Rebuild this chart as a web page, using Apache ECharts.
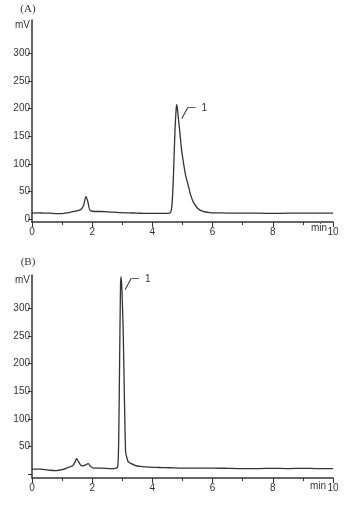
<!DOCTYPE html>
<html>
<head>
<meta charset="utf-8">
<script src="https://cdn.jsdelivr.net/npm/echarts@6/dist/echarts.min.js"></script>
</head>
<body style="margin:0">
<div id="main" style="width:348px;height:508px"></div>
<script>
    // retention time (min) / signal (mV)
    var timeA = [0, 0.2, 0.4, 0.6, 0.8, 1.0, 1.2, 1.4, 1.55, 1.65, 1.72, 1.79, 1.85, 1.9, 1.95, 2.1, 2.3, 2.6, 2.9, 3.2, 3.5, 3.8, 4.2, 4.5, 4.6, 4.65, 4.7, 4.75, 4.79, 4.81, 4.84, 4.92, 4.97, 5.03, 5.1, 5.19, 5.27, 5.36, 5.5, 5.68, 5.9, 6.2, 6.6, 7.0, 7.5, 8.0, 8.5, 9.0, 9.5, 10];
    var signalA = [11, 11.5, 11, 11, 10, 10, 12, 14, 16, 19, 26, 41, 33, 20, 15, 14, 14, 13, 12, 11.5, 11, 10.5, 10.5, 10.5, 12, 25, 80, 160, 200, 207, 195, 152, 125, 103, 80, 61, 44, 31, 20, 14, 12, 11.5, 11, 11, 11, 10.5, 11, 11, 11, 11];

    var timeB = [0, 0.3, 0.6, 0.8, 1.0, 1.2, 1.35, 1.43, 1.48, 1.55, 1.65, 1.75, 1.87, 1.95, 2.05, 2.3, 2.6, 2.8, 2.85, 2.88, 2.91, 2.94, 2.96, 2.99, 3.03, 3.07, 3.11, 3.15, 3.2, 3.3, 3.42, 3.6, 3.9, 4.2, 4.6, 5.0, 5.5, 6.0, 6.5, 7.0, 7.5, 8.0, 8.5, 9.0, 9.5, 10];
    var signalB = [9, 9, 7, 6.5, 8, 12, 15, 22, 28, 22, 15, 16, 19, 14, 11, 11, 10, 11, 14, 60, 200, 340, 357, 330, 258, 138, 40, 30, 22, 19, 16, 14, 12.5, 12, 11.5, 11, 11, 11, 10.5, 10, 10, 10.5, 10, 10.5, 10, 10];

    var yTicks = [0, 50, 100, 150, 200, 250, 300];
    var yLabelsA = [0, 50, 100, 150, 200, 250, 300, 350];   // 350 slot carries "mV"
    var yLabelsB = [50, 100, 150, 200, 250, 300, 350];
    var peakName = '1';

    function pairs(xs, ys) {
        return xs.map(function (x, i) { return [x, ys[i]]; });
    }

    var ink = '#333';
    var font = 'Liberation Sans';

    function xAxisOf(idx) {
        return {
            type: 'value', gridIndex: idx, min: 0, max: 10, interval: 2,
            axisLine: { show: true, onZero: false, lineStyle: { color: ink, width: 1.5 } },
            axisTick: { show: true, length: 5, lineStyle: { color: ink } },
            minorTick: { show: true, splitNumber: 2, length: 3, lineStyle: { color: ink } },
            splitLine: { show: false },
            axisLabel: { color: ink, fontSize: 10, margin: 5 }
        };
    }

    function yAxisOf(idx, min, labels) {
        return {
            type: 'value', gridIndex: idx, min: min, max: 360,
            axisLine: { show: true, onZero: false, lineStyle: { color: ink, width: 1.5 } },
            axisTick: { show: true, length: 4, customValues: yTicks, lineStyle: { color: ink } },
            splitLine: { show: false },
            axisLabel: {
                color: ink, fontSize: 10, margin: 2,
                customValues: labels,
                formatter: function (v) { return v === 350 ? 'mV' : String(v); }
            }
        };
    }

    // leader line + "1" hung on the tallest point of a trace
    function peakMark(xs, ys, offset) {
        var k = ys.indexOf(Math.max.apply(null, ys));
        return {
            silent: true,
            symbol: 'path://M0,13 L6,2 L14,2',
            symbolSize: [14, 11],
            symbolOffset: offset,
            itemStyle: { color: 'none', borderColor: ink, borderWidth: 1 },
            label: { show: true, position: 'right', distance: 3, offset: [0, -5],
                     formatter: peakName, color: ink, fontSize: 10 },
            data: [{ coord: [xs[k], ys[k]] }]
        };
    }

    function note(x, y, text, f) {
        return { type: 'text', x: x, y: y,
                 style: { text: text, font: f, fill: ink, textAlign: 'center', textVerticalAlign: 'middle' } };
    }

    var chart = echarts.init(document.getElementById('main'));
    chart.setOption({
        animation: false,
        textStyle: { fontFamily: font },
        grid: [
            { left: 32, width: 301, top: 20, height: 202 },
            { left: 32, width: 301, top: 275, height: 203 }
        ],
        xAxis: [xAxisOf(0), xAxisOf(1)],
        yAxis: [yAxisOf(0, -5, yLabelsA), yAxisOf(1, -7, yLabelsB)],
        series: [
            { type: 'line', xAxisIndex: 0, yAxisIndex: 0, data: pairs(timeA, signalA), showSymbol: false,
              smooth: 0.25, lineStyle: { color: ink, width: 1.3 },
              markPoint: peakMark(timeA, signalA, [12, 8.5]) },
            { type: 'line', xAxisIndex: 1, yAxisIndex: 1, data: pairs(timeB, signalB), showSymbol: false,
              smooth: 0.2, lineStyle: { color: ink, width: 1.3 },
              markPoint: peakMark(timeB, signalB, [11, 7.5]) }
        ],
        graphic: [
            note(28, 9, '(A)', '11px "Liberation Serif"'),
            note(28, 262, '(B)', '11px "Liberation Serif"'),
            note(319, 228, 'min', '10px ' + font),
            note(318, 486, 'min', '10px ' + font)
        ]
    });
</script>
</body>
</html>
